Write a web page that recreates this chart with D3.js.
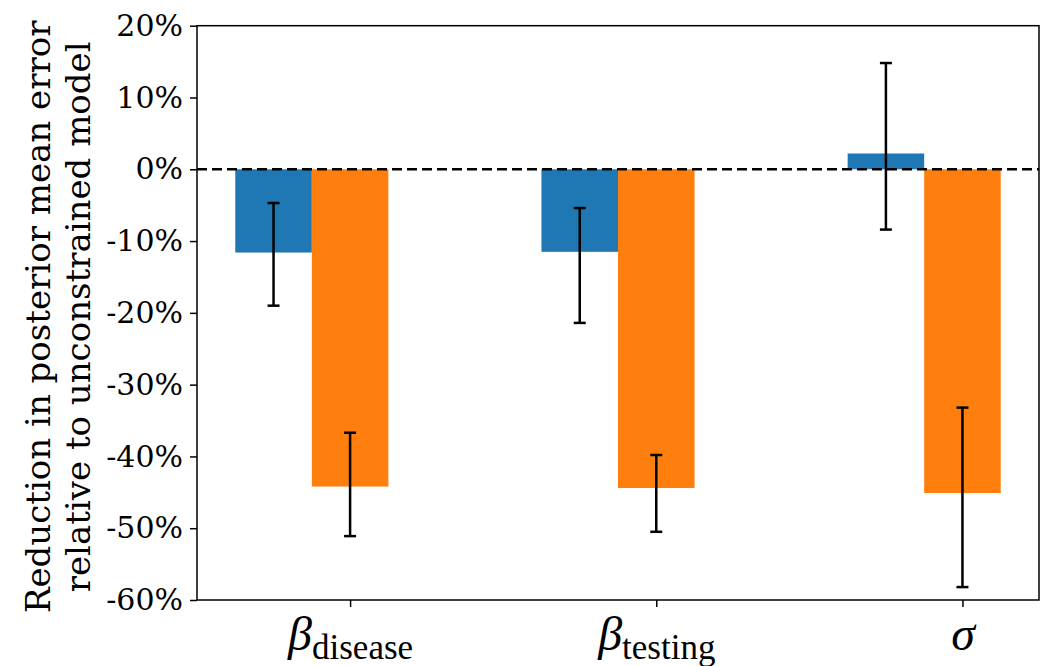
<!DOCTYPE html>
<html>
<head>
<meta charset="utf-8">
<script src="https://cdn.jsdelivr.net/npm/d3@7"></script>
<style>
  body { margin: 0; background: #fff; }
  svg { display: block; }
  .axis text { font-family: "DejaVu Serif", serif; font-size: 30px; fill: #000; }
  .axis path, .axis line { stroke: #000; stroke-width: 1.5px; }
  .ylab { font-family: "DejaVu Serif", serif; font-size: 34px; fill: #000; }
  .axis text.xlab { font-family: "Liberation Serif", serif; fill: #000; }
</style>
</head>
<body>
<svg id="chart"></svg>
<script>
// parameters (x groups) and their tick labels
const params = ["disease", "testing", "sigma"];
const tickLabels = [
  {sym: "β", sub: "disease"},
  {sym: "β", sub: "testing"},
  {sym: "σ", sub: ""}
];

// blue series (percent)
const blueValues = [-11.6, -11.5, 2.2];
const blueErrLow = [-19.0, -21.4, -8.4];
const blueErrHigh = [-4.7, -5.4, 14.8];

// orange series (percent)
const orangeValues = [-44.2, -44.4, -45.1];
const orangeErrLow = [-51.1, -50.5, -58.2];
const orangeErrHigh = [-36.7, -39.8, -33.2];

const yTicks = [20, 10, 0, -10, -20, -30, -40, -50, -60];

const config = {
  width: 1049,
  height: 666,
  margin: {top: 25.7, right: 10, bottom: 66, left: 197},
  barWidth: 0.25
};

const svg = d3.select("#chart")
  .attr("width", config.width)
  .attr("height", config.height);

const x = d3.scaleLinear()
  .domain([-0.5, 2.25])
  .range([config.margin.left, config.width - config.margin.right]);

const y = d3.scaleLinear()
  .domain([-60, 20])
  .range([config.height - config.margin.bottom, config.margin.top]);

const bw = x(config.barWidth) - x(0);

// build series table
const series = [
  {color: "#1f77b4", offset: -config.barWidth, values: blueValues, lo: blueErrLow, hi: blueErrHigh},
  {color: "#ff7f0e", offset: 0, values: orangeValues, lo: orangeErrLow, hi: orangeErrHigh}
];

series.forEach(s => {
  const rows = params.map((p, i) => ({i, v: s.values[i]}));
  svg.append("g")
    .selectAll("rect")
    .data(rows)
    .join("rect")
      .attr("x", d => x(d.i + s.offset) - bw / 2)
      .attr("y", d => y(Math.max(0, d.v)))
      .attr("width", bw)
      .attr("height", d => Math.abs(y(d.v) - y(0)))
      .attr("fill", s.color);
});

// zero line
svg.append("line")
  .attr("x1", x(-0.5)).attr("x2", x(2.25))
  .attr("y1", y(0)).attr("y2", y(0))
  .attr("stroke", "#000")
  .attr("stroke-width", 2.5)
  .attr("stroke-dasharray", "10,5");

// error bars
series.forEach(s => {
  const rows = params.map((p, i) => ({cx: x(i + s.offset), lo: s.lo[i], hi: s.hi[i]}));
  const g = svg.append("g").attr("stroke", "#000").attr("stroke-width", 2.5);
  g.selectAll(".stem").data(rows).join("line")
    .attr("x1", d => d.cx).attr("x2", d => d.cx)
    .attr("y1", d => y(d.lo)).attr("y2", d => y(d.hi));
  g.selectAll(".caplo").data(rows).join("line")
    .attr("x1", d => d.cx - 6).attr("x2", d => d.cx + 6)
    .attr("y1", d => y(d.lo)).attr("y2", d => y(d.lo));
  g.selectAll(".caphi").data(rows).join("line")
    .attr("x1", d => d.cx - 6).attr("x2", d => d.cx + 6)
    .attr("y1", d => y(d.hi)).attr("y2", d => y(d.hi));
});

// axes
const yAxis = d3.axisLeft(y).tickValues(yTicks).tickSize(7).tickPadding(7)
  .tickFormat(d => d + "%");
svg.append("g")
  .attr("class", "axis")
  .call(yAxis)
  .attr("transform", `translate(${config.margin.left},0)`)
  .call(g => g.select(".domain").remove());

const xAxis = d3.axisBottom(x).tickValues([0, 1, 2]).tickSize(7).tickFormat("");
const xg = svg.append("g")
  .attr("class", "axis")
  .attr("transform", `translate(0,${y(-60)})`)
  .call(xAxis)
  .call(g => g.select(".domain").remove());

xg.selectAll(".tick")
  .append("text")
  .attr("class", "xlab")
  .attr("y", 50)
  .attr("text-anchor", "middle")
  .each(function(d) {
    const lab = tickLabels[d];
    const t = d3.select(this);
    t.append("tspan")
      .style("font-style", "italic")
      .style("font-size", "48px")
      .text(lab.sym);
    if (lab.sub) {
      t.append("tspan")
        .attr("dy", 9)
        .style("font-size", "35px")
        .text(lab.sub);
    }
  });

// frame
svg.append("rect")
  .attr("x", x(-0.5)).attr("y", y(20))
  .attr("width", x(2.25) - x(-0.5))
  .attr("height", y(-60) - y(20))
  .attr("fill", "none")
  .attr("stroke", "#000")
  .attr("stroke-width", 1.5);

// y label
const cy = (y(20) + y(-60)) / 2 + 4;
const ylab = svg.append("text")
  .attr("class", "ylab")
  .attr("transform", `translate(50,${cy}) rotate(-90)`)
  .attr("text-anchor", "middle");
ylab.append("tspan").attr("x", 0).attr("y", 0).text("Reduction in posterior mean error");
ylab.append("tspan").attr("x", 0).attr("y", 40).text("relative to unconstrained model");
</script>
</body>
</html>
